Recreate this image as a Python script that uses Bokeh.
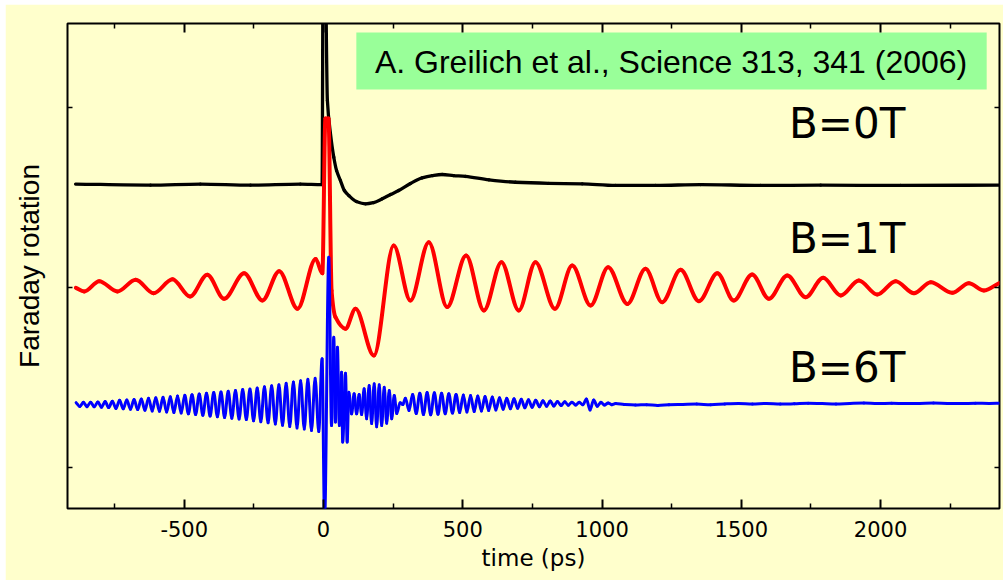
import numpy as np
from bokeh.plotting import figure
from bokeh.models import (Range1d, LinearAxis, FixedTicker, BoxAnnotation, Label, Spacer,
                          CustomLabelingPolicy)
from bokeh.layouts import row, column
from bokeh.embed import file_html
from bokeh.resources import INLINE

# ---------------- data ----------------
# time in ps, Faraday rotation in arbitrary units (traces offset vertically)
t_0T = [-890, -621, -442, -262, -83, -5, -1, 5, 14, 25, 37, 47, 61, 75, 91, 118, 151, 180,
        211, 241, 270, 312, 354, 391, 426, 467, 510, 594, 689, 809, 929, 1049, 1192, 1354,
        1569, 1785, 2072, 2428]
y_0T = [15.75, 15.69, 15.75, 15.69, 15.75, 15.72, 29.3, 29.3, 20.4, 18.56, 17.24, 16.5,
        15.94, 15.39, 15.11, 14.78, 14.65, 14.72, 14.93, 15.17, 15.39, 15.78, 16.09, 16.22,
        16.28, 16.22, 16.17, 15.98, 15.85, 15.79, 15.76, 15.67, 15.67, 15.72, 15.67, 15.69,
        15.67, 15.69]

t_1T = [-889, -859, -805, -740, -674, -610, -542, -479, -417, -357, -285, -219, -159, -93,
        -28, -4, 7, 18, 29, 43, 79, 115, 181, 252, 312, 378, 444, 512, 576, 639, 701, 761,
        831, 893, 959, 1022, 1091, 1156, 1216, 1282, 1348, 1414, 1473, 1539, 1599, 1665,
        1731, 1794, 1857, 1922, 1988, 2054, 2120, 2180, 2258, 2317, 2371, 2425]
y_1T = [9.98, 9.78, 10.35, 9.78, 10.43, 9.68, 10.46, 9.5, 10.71, 9.37, 10.79, 9.28, 10.91,
        8.82, 11.59, 10.79, 19.39, 19.39, 9.83, 8.35, 7.71, 8.82, 6.22, 12.33, 9.28, 12.52,
        8.91, 11.78, 8.72, 11.41, 8.72, 11.41, 8.82, 11.22, 9.0, 11.13, 9.09, 11.04, 9.18,
        10.98, 9.24, 10.79, 9.28, 10.72, 9.37, 10.67, 9.46, 10.54, 9.56, 10.39, 9.61, 10.35,
        9.68, 10.29, 9.71, 10.24, 9.83, 10.24]

t_6T = [-888, -875, -862, -849, -836, -823, -810, -797, -784, -771, -758, -745, -732, -719,
        -706, -693, -680, -667, -654, -641, -628, -615, -602, -589, -576, -563, -550, -537,
        -524, -511, -498, -485, -472, -459, -446, -433, -420, -407, -394, -381, -368, -355,
        -342, -329, -316, -303, -290, -277, -264, -251, -238, -225, -212, -199, -186, -173,
        -160, -147, -134, -121, -108, -95, -82, -69, -56, -43, -30, -17,
        -5, 4, 19, 29, 37, 43, 50, 57, 65, 69, 79, 85,
        91, 101, 110, 119, 128, 137,
        146, 155, 164, 173, 182, 191, 200, 209, 218, 227, 236, 245, 254, 263,
        275, 285,
        294, 307, 320, 333, 346, 359, 372, 385, 398, 411, 424, 437, 450, 463, 476, 489, 502,
        515, 528, 541, 554, 567, 580, 593, 606, 619, 632, 645, 658, 671, 684, 697, 710, 723,
        736, 749, 762, 775, 788, 801, 814, 827, 840, 853, 866, 879, 892, 905, 918, 931, 944,
        957, 970, 983, 996, 1009, 1022, 1035, 1049,
        1080, 1120, 1160, 1200, 1240, 1290, 1340, 1390, 1440, 1490, 1540, 1590, 1640, 1690,
        1740, 1790, 1840, 1890, 1940, 1990, 2040, 2090, 2140, 2190, 2240, 2290, 2340, 2390,
        2428]
y_6T = [3.60, 3.39, 3.62, 3.38, 3.63, 3.37, 3.64, 3.35, 3.66, 3.33, 3.68, 3.28, 3.73, 3.26,
        3.75, 3.24, 3.77, 3.22, 3.80, 3.18, 3.85, 3.14, 3.88, 3.12, 3.90, 3.08, 3.93, 3.05,
        3.97, 3.02, 4.01, 2.98, 4.04, 2.94, 4.08, 2.90, 4.13, 2.86, 4.17, 2.82, 4.20, 2.78,
        4.24, 2.74, 4.28, 2.69, 4.33, 2.66, 4.36, 2.60, 4.42, 2.54, 4.48, 2.48, 4.54, 2.42,
        4.60, 2.34, 4.68, 2.28, 4.75, 2.20, 4.82, 2.14, 4.90, 2.06, 4.96, 2.00,
        6.04, -2.94, 11.68, 2.33, 7.24, 2.52, 6.68, 2.33, 5.29, 1.41, 5.24, 1.41,
        4.18, 2.98, 4.09, 2.98, 4.06, 2.94,
        4.38, 2.71, 4.56, 2.44, 4.65, 2.26, 4.59, 2.33, 4.46, 2.46, 4.28, 2.71, 4.00, 3.00,
        3.60, 3.50,
        3.85, 3.17, 4.05, 3.00, 4.13, 2.94, 4.17, 2.93, 4.15, 2.96, 4.12, 2.99, 4.10, 3.02,
        4.06, 3.05, 4.03, 3.08, 4.00, 3.11, 3.97, 3.14, 3.94, 3.17, 3.91, 3.20, 3.88, 3.23,
        3.85, 3.26, 3.82, 3.29, 3.79, 3.32, 3.76, 3.35, 3.73, 3.38, 3.71, 3.40, 3.69, 3.42,
        3.67, 3.44, 3.65, 3.46, 3.63, 3.47, 3.62, 3.48, 3.80, 3.20, 3.75, 3.40, 3.62, 3.47,
        3.58, 3.49, 3.56,
        3.50, 3.47, 3.49, 3.45, 3.48, 3.50, 3.52, 3.49, 3.53, 3.55, 3.53, 3.56, 3.52, 3.54,
        3.57, 3.55, 3.53, 3.56, 3.58, 3.55, 3.57, 3.55, 3.56, 3.58, 3.56, 3.55, 3.57, 3.56,
        3.57]

x_ticks = [-500, 0, 500, 1000, 1500, 2000]
x_tick_labels = ["-500", "0", "500", "1000", "1500", "2000"]
x_minor = [-750, -250, 250, 750, 1250, 1750, 2250]
y_ticks = [0, 10, 20]

labels = ["B=0T", "B=1T", "B=6T"]
label_t = [1880, 1880, 1880]
label_y = [19.14, 12.72, 5.53]
citation = "A. Greilich et al., Science 313, 341 (2006)"

BG = "#FFFFCC"


def smooth_segments(t, y):
    """Monotone cubic (Fritsch-Carlson) Bezier segments through the read points."""
    t = np.asarray(t, float)
    y = np.asarray(y, float)
    h = np.diff(t)
    d = np.diff(y) / h
    n = len(t)
    m = np.zeros(n)
    m[0], m[-1] = d[0], d[-1]
    for i in range(1, n - 1):
        if d[i - 1] * d[i] > 0:
            m[i] = 2.0 / (1.0 / d[i - 1] + 1.0 / d[i])
    return dict(x0=t[:-1], y0=y[:-1], x1=t[1:], y1=y[1:],
                cx0=t[:-1] + h / 3, cy0=y[:-1] + m[:-1] * h / 3,
                cx1=t[1:] - h / 3, cy1=y[1:] - m[1:] * h / 3)


def no_labels():
    return CustomLabelingPolicy(code="return new Set()")


p = figure(width=998, height=576,
           x_range=Range1d(-919, 2427), y_range=Range1d(-2.28, 24.67),
           output_backend="svg", toolbar_location=None,
           background_fill_color=BG, border_fill_color=BG,
           min_border_left=62, min_border_right=4, min_border_top=19, min_border_bottom=72,
           x_axis_label="time (ps)", y_axis_label="Faraday rotation")
p.xgrid.visible = False
p.ygrid.visible = False
p.outline_line_color = "black"
p.outline_line_width = 2

# bottom axis
xa = p.xaxis[0]
xa.ticker = FixedTicker(ticks=x_ticks, minor_ticks=x_minor)
xa.major_label_overrides = dict(zip(x_ticks, x_tick_labels))
xa.axis_line_color = None
xa.major_tick_in, xa.major_tick_out = 9, 0
xa.minor_tick_in, xa.minor_tick_out = 5, 0
xa.major_tick_line_width = 2
xa.minor_tick_line_width = 1.5
xa.major_label_text_font = "DejaVu Sans"
xa.major_label_text_font_size = "21px"
xa.major_label_text_color = "black"
xa.major_label_standoff = 12
xa.axis_label_text_font = "DejaVu Sans"
xa.axis_label_text_font_size = "23px"
xa.axis_label_text_font_style = "normal"
xa.axis_label_text_color = "black"
xa.axis_label_standoff = 5

# left axis
ya = p.yaxis[0]
ya.ticker = FixedTicker(ticks=y_ticks, minor_ticks=[])
ya.axis_line_color = None
ya.major_tick_in, ya.major_tick_out = 5, 0
ya.major_tick_line_width = 1.5
ya.minor_tick_line_color = None
ya.major_label_policy = no_labels()
ya.major_label_text_font_size = "1px"
ya.major_label_standoff = 0
ya.axis_label_text_font = "Liberation Sans"
ya.axis_label_text_font_size = "28px"
ya.axis_label_text_font_style = "normal"
ya.axis_label_text_color = "black"
ya.axis_label_standoff = 18

# mirrored top / right axes (ticks only)
top = LinearAxis(ticker=FixedTicker(ticks=x_ticks, minor_ticks=x_minor),
                 axis_line_color=None, major_tick_in=9, major_tick_out=0,
                 minor_tick_in=5, minor_tick_out=0, major_tick_line_width=2,
                 minor_tick_line_width=1.5, major_label_text_font_size="1px",
                 major_label_policy=no_labels(), major_label_standoff=0)
p.add_layout(top, "above")
right = LinearAxis(ticker=FixedTicker(ticks=y_ticks, minor_ticks=[]),
                   axis_line_color=None, major_tick_in=5, major_tick_out=0,
                   minor_tick_line_color=None, major_tick_line_width=1.5,
                   major_label_text_font_size="1px", major_label_policy=no_labels(),
                   major_label_standoff=0)
p.add_layout(right, "right")

# citation box
p.add_layout(BoxAnnotation(left=118, right=2381, bottom=21.0, top=24.17,
                           fill_color="#99FF99", fill_alpha=1.0, line_color=None, level="underlay"))
p.add_layout(Label(x=1248, y=22.55, text=citation, text_font="Liberation Sans",
                   text_font_size="32px", text_color="black",
                   text_align="center", text_baseline="middle"))

# traces
p.bezier(**smooth_segments(t_0T, y_0T), line_color="black", line_width=3.3, line_cap="round")
p.bezier(**smooth_segments(t_1T, y_1T), line_color="#FF0000", line_width=4, line_cap="round")
p.bezier(**smooth_segments(t_6T, y_6T), line_color="#0000FF", line_width=3, line_cap="round")

for txt, tx, ty in zip(labels, label_t, label_y):
    p.add_layout(Label(x=tx, y=ty, text=txt, text_font="DejaVu Sans", text_font_size="42px",
                       text_color="black", text_align="center", text_baseline="middle"))

layout = column(Spacer(height=4), row(Spacer(width=5), p))
open("out.html", "w").write(file_html(layout, INLINE))
